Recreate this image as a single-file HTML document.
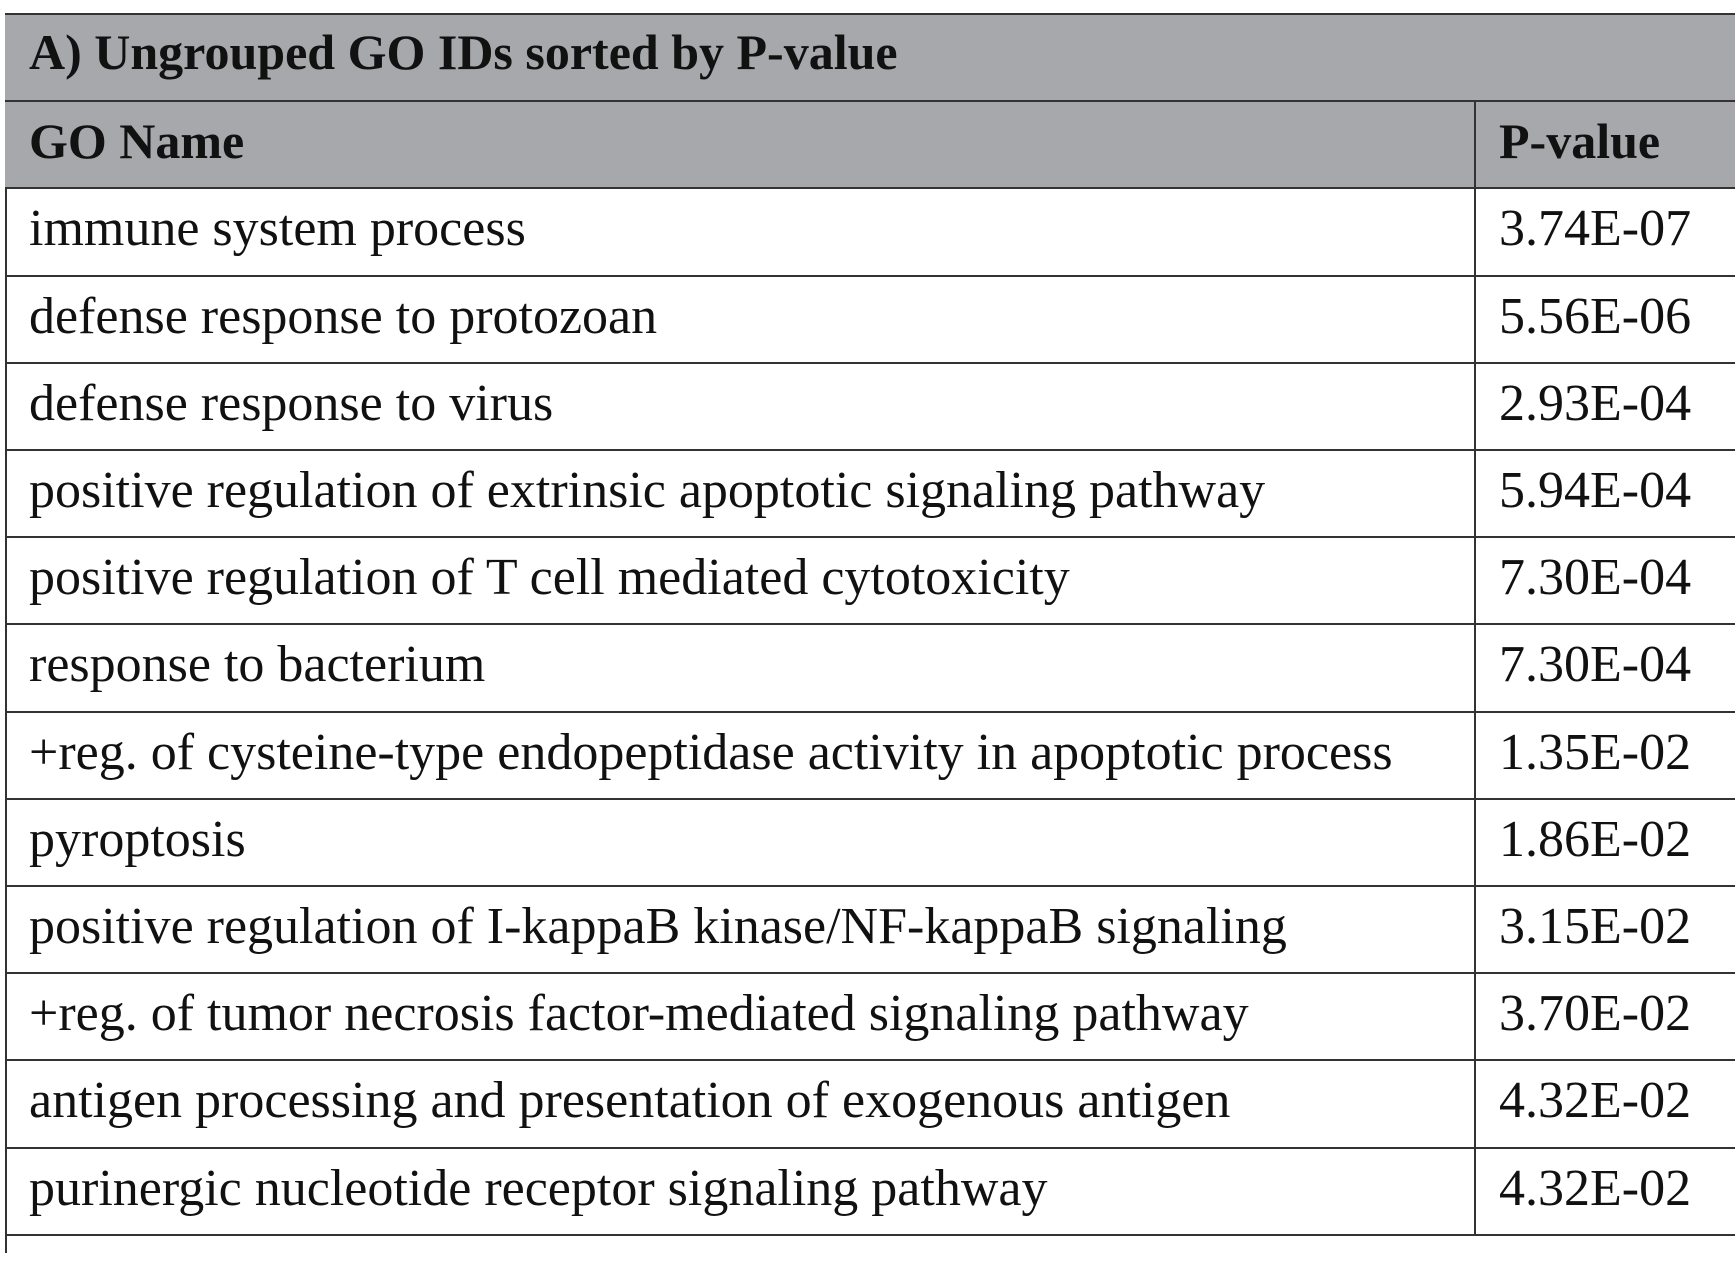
<!DOCTYPE html>
<html><head><meta charset="utf-8"><style>
body{margin:0;width:1735px;height:1247px;background:#fff;position:relative;overflow:hidden;font-family:"Liberation Serif",serif;color:#111}
.row{position:absolute;left:5px;width:1740px;border-top:2px solid #333;box-sizing:border-box}
.cell{position:absolute;white-space:nowrap;font-size:52px}
.hdr{background:#a7a8ab;font-weight:bold;}
.vline{position:absolute;left:1474px;width:2px;background:#333}
</style></head><body>
<div id="tbl"></div>
<script>
const names=["immune system process","defense response to protozoan","defense response to virus","positive regulation of extrinsic apoptotic signaling pathway","positive regulation of T cell mediated cytotoxicity","response to bacterium","+reg. of cysteine-type endopeptidase activity in apoptotic process","pyroptosis","positive regulation of I-kappaB kinase/NF-kappaB signaling","+reg. of tumor necrosis factor-mediated signaling pathway","antigen processing and presentation of exogenous antigen","purinergic nucleotide receptor signaling pathway"];
const pvals=["3.74E-07","5.56E-06","2.93E-04","5.94E-04","7.30E-04","7.30E-04","1.35E-02","1.86E-02","3.15E-02","3.70E-02","4.32E-02","4.32E-02"];
const t=document.getElementById('tbl');
const top0=13, rh=87.2;
function mk(y,h,cls){const d=document.createElement('div');d.className='row '+(cls||'');d.style.top=y+'px';d.style.height=(h+2)+'px';t.appendChild(d);return d;}
function txt(parent,x,s,bold){const c=document.createElement('div');c.className='cell';c.style.left=x+'px';c.style.top='-4px';c.style.lineHeight=rh+'px';if(bold)c.style.fontWeight='bold';c.textContent=s;parent.appendChild(c);return c;}
const lb=document.createElement('div');lb.style.cssText='position:absolute;left:5px;top:13px;width:2px;height:1240px;background:#333';


t.appendChild(lb);
const title=mk(top0,rh,'hdr');


const tt=txt(title,24,'A) Ungrouped GO IDs sorted by P-value',true);tt.style.fontSize='50px';tt.style.top='-6px';
const hdr=mk(top0+rh,rh,'hdr');


const h1=txt(hdr,24,'GO Name',true);h1.style.fontSize='50px';


const h2=txt(hdr,1494,'P-value',true);h2.style.fontSize='50px';


names.forEach((n,i)=>{
  const r=mk(top0+rh*(i+2),rh,'');
  
  
  const a=txt(r,24,n,false);
  
  
  const b=txt(r,1494,pvals[i],false);
  
  
});
const bot=mk(top0+rh*14,40,'');
const v=document.createElement('div');v.className='vline';


v.style.top=(top0+rh)+'px';v.style.height=(rh*13)+'px';t.appendChild(v);
</script>
</body></html>
